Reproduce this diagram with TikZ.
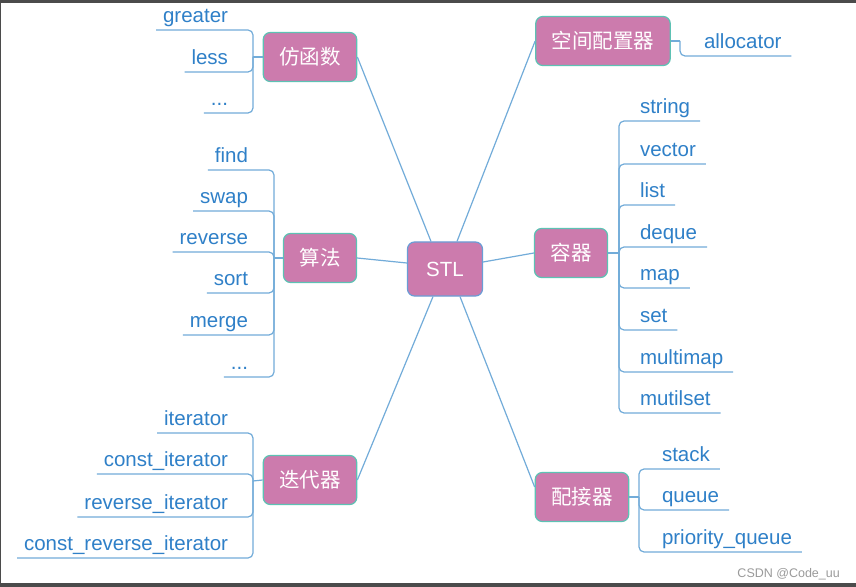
\documentclass[tikz,border=0pt]{standalone}
\usepackage{fontspec}
\setmainfont{Liberation Sans}
\newfontfamily\cjk{Noto Sans CJK SC}
\definecolor{boxfill}{HTML}{CC7BAD}
\definecolor{boxline}{HTML}{5DC2B4}
\definecolor{stlline}{HTML}{6A9ED6}
\definecolor{linkc}{HTML}{72ACD9}
\definecolor{leaftext}{HTML}{2F80C8}
\definecolor{darkstrip}{HTML}{4B4B4B}
\definecolor{wmgray}{HTML}{9A9A9A}
\begin{document}
\begin{tikzpicture}[x=1bp,y=-1bp,
  box/.style={draw=boxline, fill=boxfill, rounded corners=7bp, line width=1.2bp,
    text=white, font=\cjk\fontsize{20.5bp}{24bp}\selectfont,
    minimum height=49bp, inner xsep=16bp, inner ysep=0pt},
  stlbox/.style={box, draw=stlline, font=\fontsize{20.5bp}{24bp}\selectfont,
    minimum width=75bp, minimum height=54bp},
  leafbase/.style={text=leaftext, font=\fontsize{20.5bp}{24bp}\selectfont,
    text depth=0pt, inner ysep=7.5bp, outer sep=0pt},
  leafL/.style={leafbase, inner xsep=7bp, anchor=base east},
  leafR/.style={leafbase, inner xsep=10bp, anchor=base west},
  link/.style={draw=linkc, line width=1.2bp},
  leaflink/.style={link, rounded corners=5bp}
]
\useasboundingbox (0,0) rectangle (856,587);
\fill[white] (0,0) rectangle (856,587);

% central and main nodes
\node[stlbox] (stl) at (445,269) {STL};
\node[box] (fhs) at (310,57) {仿函数};
\node[box] (sf)  at (320,258) {算法};
\node[box] (ddq) at (310,480) {迭代器};
\node[box] (kj)  at (603,41) {空间配置器};
\node[box] (rq)  at (571,253) {容器};
\node[box] (pj)  at (582,497) {配接器};

% connectors from STL
\draw[link] (fhs.east) -- ([xshift=-14bp]stl.north);
\draw[link] (kj.west) -- ([xshift=12bp]stl.north);
\draw[link] (sf.east) -- ([yshift=6bp]stl.west);
\draw[link] (rq.west) -- ([yshift=7bp]stl.east);
\draw[link] (ddq.east) -- ([xshift=-12bp]stl.south);
\draw[link] ([yshift=10bp]pj.west) -- ([xshift=15bp]stl.south);

% bracket branch points
\coordinate (fbr) at (253,57);
\coordinate (sbr) at (274,258);
\coordinate (dbr) at (253,481);
\coordinate (cbr) at (619,253);
\coordinate (pbr) at (639,497);
\coordinate (abr) at (680,41);
\draw[link] (fhs.west) -- (fbr);
\draw[link] (sf.west) -- (sbr);
\draw[link] (ddq.west) -- (dbr);
\draw[link] (rq.east) -- (cbr);
\draw[link] (pj.east) -- (pbr);
\draw[link] (kj.east) -- (abr);

% 仿函数 leaves
\node[leafL] (f1) at (235,22.5) {greater};
\node[leafL] (f2) at (235,64.5) {less};
\node[leafL] (f3) at (235,105.5) {...};
\foreach \n in {f1,f2,f3} \draw[leaflink] (\n.south west) -| (fbr);

% 算法 leaves
\node[leafL] (s1) at (255,162.5) {find};
\node[leafL] (s2) at (255,203.5) {swap};
\node[leafL] (s3) at (255,244.5) {reverse};
\node[leafL] (s4) at (255,285.5) {sort};
\node[leafL] (s5) at (255,327.5) {merge};
\node[leafL] (s6) at (255,369.5) {...};
\foreach \n in {s1,s2,s3,s4,s5,s6} \draw[leaflink] (\n.south west) -| (sbr);

% 迭代器 leaves
\node[leafL] (d1) at (235,425.5) {iterator};
\node[leafL] (d2) at (235,466.5) {const\_iterator};
\node[leafL] (d3) at (235,509.5) {reverse\_iterator};
\node[leafL] (d4) at (235,550.5) {const\_reverse\_iterator};
\foreach \n in {d1,d2,d3,d4} \draw[leaflink] (\n.south west) -| (dbr);

% 空间配置器 leaf
\node[leafR] (a1) at (694,48.5) {allocator};
\draw[leaflink] (a1.south east) -| (abr);

% 容器 leaves
\node[leafR] (c1) at (630,113.5) {string};
\node[leafR] (c2) at (630,156.5) {vector};
\node[leafR] (c3) at (630,197.5) {list};
\node[leafR] (c4) at (630,239.5) {deque};
\node[leafR] (c5) at (630,280.5) {map};
\node[leafR] (c6) at (630,322.5) {set};
\node[leafR] (c7) at (630,364.5) {multimap};
\node[leafR] (c8) at (630,405.5) {mutilset};
\foreach \n in {c1,c2,c3,c4,c5,c6,c7,c8} \draw[leaflink] (\n.south east) -| (cbr);

% 配接器 leaves
\node[leafR] (p1) at (652,461.5) {stack};
\node[leafR] (p2) at (652,502.5) {queue};
\node[leafR] (p3) at (652,544.5) {priority\_queue};
\foreach \n in {p1,p2,p3} \draw[leaflink] (\n.south east) -| (pbr);

% watermark
\node[text=wmgray, font=\fontsize{12.5bp}{14bp}\selectfont, anchor=base east, inner sep=0pt] (wm) at (840,577) {CSDN @Code\_uu};

% screenshot border strips
\fill[darkstrip] (0,0) rectangle (856,3);
\fill[darkstrip] (0,583) rectangle (856,587);
\fill[darkstrip] (0,0) rectangle (1.5,587);
\end{tikzpicture}
\end{document}
